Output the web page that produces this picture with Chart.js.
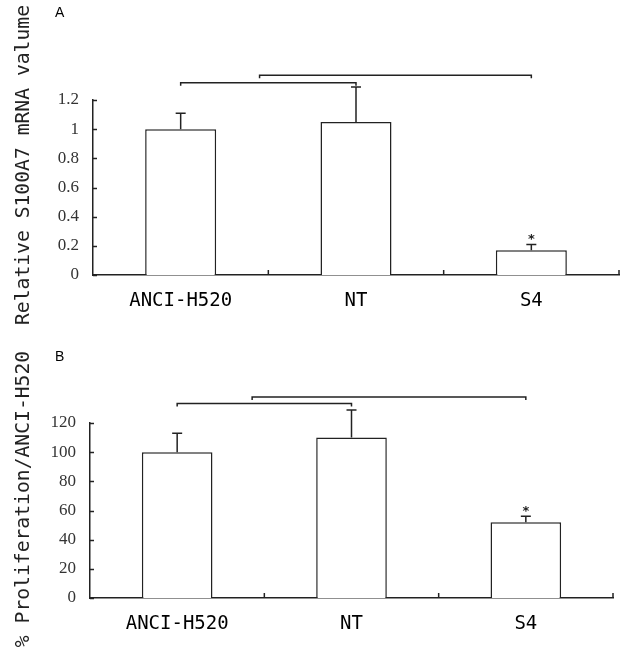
<!DOCTYPE html>
<html>
<head>
<meta charset="utf-8">
<script src="https://cdn.jsdelivr.net/npm/chart.js@4/dist/chart.umd.min.js"></script>
<style>
  body { margin: 0; background: #fff; }
  #wrap { position: relative; width: 625px; height: 654px; }
  canvas { position: absolute; left: 0; }
</style>
</head>
<body>
<div id="wrap">
  <canvas id="chartA" width="625" height="327" style="top:0"></canvas>
  <canvas id="chartB" width="625" height="327" style="top:327px"></canvas>
</div>
<script>
'use strict';

// data
const categories = ['ANCI-H520', 'NT', 'S4'];

const mrnaValues = [1.0, 1.05, 0.17];
const mrnaErrors = [0.11, 0.24, 0.04];
const mrnaTicks = { min: 0, max: 1.2, step: 0.2 };

const prolifValues = [100, 110, 52];
const prolifErrors = [13, 19, 4];
const prolifTicks = { min: 0, max: 120, step: 20 };

const starMarks = ['', '', '*'];

// brackets: [from category, to category, level in axis units]
const mrnaBrackets = [[0, 1, 1.319], [0.45, 2, 1.37]];
const prolifBrackets = [[0, 1, 133.3], [0.43, 2, 137.9]];

const ink = '#222';

// error bars, brackets, stars, inward ticks, titles
const extrasPlugin = {
  id: 'extras',
  afterDatasetsDraw(chart, args, opts) {
    const ctx = chart.ctx;
    const x = chart.scales.x;
    const y = chart.scales.y;
    const area = chart.chartArea;
    const vals = chart.data.datasets[0].data;
    ctx.save();
    ctx.strokeStyle = ink;
    ctx.lineWidth = 1.5;

    // inward ticks on y axis
    y.ticks.forEach(function (t) {
      const py = Math.round(y.getPixelForValue(t.value)) + 0.5;
      ctx.beginPath();
      ctx.moveTo(area.left, py);
      ctx.lineTo(area.left + 4, py);
      ctx.stroke();
    });
    // inward ticks on x axis, at category boundaries
    for (let i = 0; i < categories.length; i++) {
      const px = x.getPixelForValue(i + 0.5);
      ctx.beginPath();
      ctx.moveTo(px, area.bottom);
      ctx.lineTo(px, area.bottom - 5);
      ctx.stroke();
    }

    // error bars
    for (let i = 0; i < vals.length; i++) {
      const px = x.getPixelForValue(i);
      const top = y.getPixelForValue(vals[i]);
      const errTop = y.getPixelForValue(vals[i] + opts.errors[i]);
      ctx.beginPath();
      ctx.moveTo(px, top);
      ctx.lineTo(px, errTop);
      ctx.moveTo(px - 5, errTop);
      ctx.lineTo(px + 5, errTop);
      ctx.stroke();
      if (starMarks[i]) {
        ctx.fillStyle = ink;
        ctx.font = 'bold 13px "DejaVu Sans"';
        ctx.textAlign = 'center';
        ctx.textBaseline = 'middle';
        ctx.fillText(starMarks[i], px, errTop - 5);
      }
    }

    // brackets
    opts.brackets.forEach(function (b) {
      const x1 = x.getPixelForValue(b[0]);
      const x2 = x.getPixelForValue(b[1]);
      const py = y.getPixelForValue(b[2]);
      ctx.beginPath();
      ctx.moveTo(x1, py + 3);
      ctx.lineTo(x1, py);
      ctx.lineTo(x2, py);
      ctx.lineTo(x2, py + 3);
      ctx.stroke();
    });

    // panel letter
    ctx.fillStyle = '#000';
    ctx.font = '14px "Liberation Sans"';
    ctx.textAlign = 'left';
    ctx.textBaseline = 'middle';
    ctx.fillText(opts.letter, opts.letterX, opts.letterY);

    // y axis title, rotated
    ctx.translate(29, opts.titleY);
    ctx.rotate(-Math.PI / 2);
    ctx.fillStyle = ink;
    ctx.font = '19.7px "DejaVu Sans Mono"';
    ctx.textAlign = 'center';
    ctx.textBaseline = 'alphabetic';
    ctx.fillText(opts.title, 0, 0);
    ctx.restore();
  }
};

function makeChart(canvasId, values, errors, ticks, brackets, layout) {
  return new Chart(document.getElementById(canvasId), {
    type: 'bar',
    data: {
      labels: categories,
      datasets: [{
        data: values,
        backgroundColor: '#fff',
        borderColor: ink,
        borderWidth: 1.5,
        categoryPercentage: 1,
        barPercentage: 0.405
      }]
    },
    options: {
      responsive: false,
      animation: false,
      events: [],
      layout: { padding: { top: layout.top, right: layout.right, left: 0, bottom: 0 } },
      plugins: {
        legend: { display: false },
        tooltip: { enabled: false },
        extras: {
          errors: errors,
          brackets: brackets,
          letter: layout.letter,
          letterX: layout.letterX,
          letterY: layout.letterY,
          title: layout.title,
          titleY: layout.titleY
        }
      },
      scales: {
        x: {
          grid: { display: false, drawTicks: false },
          border: { color: ink, width: 1.5 },
          ticks: {
            padding: 15,
            color: '#000',
            font: { family: 'DejaVu Sans Mono', size: 19 }
          },
          afterFit: function (s) { s.height = layout.xHeight; }
        },
        y: {
          min: ticks.min,
          max: ticks.max,
          grid: { display: false, drawTicks: false },
          border: { color: ink, width: 1.5 },
          ticks: {
            stepSize: ticks.step,
            padding: 14,
            color: '#333',
            font: { family: 'Liberation Serif', size: 17 },
            callback: function (v) { return String(Math.round(v * 10) / 10); }
          },
          afterFit: function (s) { s.width = layout.yWidth; }
        }
      }
    },
    plugins: [extrasPlugin]
  });
}

makeChart('chartA', mrnaValues, mrnaErrors, mrnaTicks, mrnaBrackets, {
  top: 100, right: 6, xHeight: 52, yWidth: 93,
  letter: 'A', letterX: 55, letterY: 13,
  title: 'Relative S100A7 mRNA valume', titleY: 165
});

makeChart('chartB', prolifValues, prolifErrors, prolifTicks, prolifBrackets, {
  top: 96, right: 12, xHeight: 56, yWidth: 90,
  letter: 'B', letterX: 55, letterY: 30,
  title: '% Proliferation/ANCI-H520', titleY: 172
});
</script>
</body>
</html>
